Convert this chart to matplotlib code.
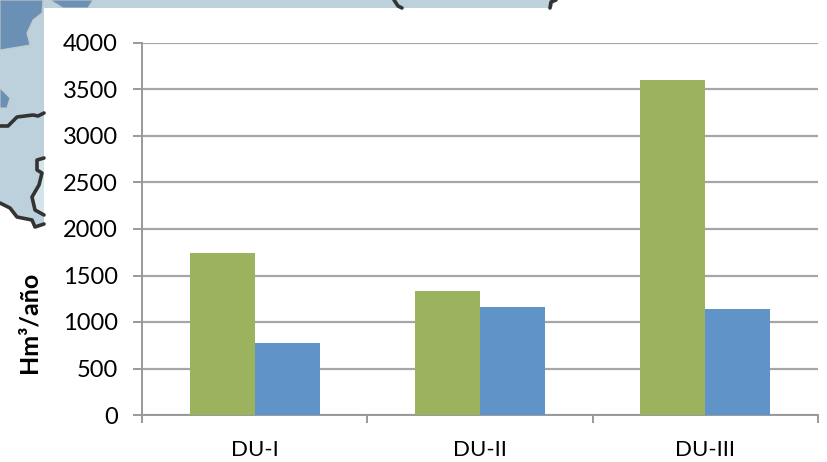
#!/usr/bin/env python3
# -*- coding: utf-8 -*-
"""
Bar chart of Hm3/year per DU, pasted over a piece of map
"""
import matplotlib
matplotlib.use('Agg')
import matplotlib.pyplot as plt
from matplotlib.patches import Polygon, Rectangle
import numpy as np

# Chart data
categories = ['DU-I', 'DU-II', 'DU-III']
green_values = [1740, 1330, 3600]
blue_values = [775, 1160, 1140]
y_ticks = [0, 500, 1000, 1500, 2000, 2500, 3000, 3500, 4000]

# Map leftovers behind the chart, in pixels of the picture
MAP_LIGHT = '#bcd1dc'
MAP_PALE = '#d3e5ea'
MAP_DARK = '#6a91b5'
BORDER = '#333333'
map_area = [(0, 0), (555, 0), (552, 8), (44, 8), (44, 224), (35, 227), (32, 220), (17, 217), (10, 208), (0, 203)]
map_pale = [(44, 158), (37, 160), (37, 170), (42, 173), (39, 185), (32, 197), (35, 210), (44, 215)]
map_deep = [(0, 0), (43, 0), (42, 13), (33, 20), (27, 33), (30, 45), (0, 50)]
map_deep_top = [(50, 0), (93, 0), (88, 8), (63, 8)]
map_deep_small = [(0, 88), (10, 98), (7, 108), (0, 108)]
border_a = [(0, 126), (8, 126), (17, 117), (33, 115), (38, 116), (44, 113)]
border_b = [(44, 158), (37, 160), (37, 170), (42, 173), (39, 185), (32, 197), (35, 210), (44, 215)]
border_c = [(0, 203), (10, 208), (17, 217), (32, 220), (35, 227), (44, 224)]
border_d = [(394, 0), (398, 6), (402, 8)]
border_e = [(556, 0), (551, 2), (550, 8)]


def draw_map(fig):
    bg = fig.add_axes([0, 0, 1, 1], zorder=0)
    bg.set_xlim(0, 828)
    bg.set_ylim(462, 0)
    bg.axis('off')
    bg.add_patch(Polygon(map_area, closed=True, fc=MAP_LIGHT, ec='none'))
    bg.add_patch(Polygon(map_pale, closed=True, fc=MAP_PALE, ec='none'))
    for shape in [map_deep, map_deep_top, map_deep_small]:
        bg.add_patch(Polygon(shape, closed=True, fc=MAP_DARK, ec='#c4c8cc', lw=0.8))
    for line in [border_a, border_b, border_c, border_d, border_e]:
        pts = np.array(line)
        bg.plot(pts[:, 0], pts[:, 1], color=BORDER, lw=2.6, solid_capstyle='round')
    # white panel of the chart on top of the map
    bg.add_patch(Rectangle((44, 8), 784, 454, fc='white', ec='none'))


def main():
    plt.rcParams['font.family'] = ['Lato', 'DejaVu Sans']
    fig = plt.figure(figsize=(8.28, 4.62), dpi=100)
    draw_map(fig)

    # axes box in picture pixels: x 142-818, y 43-415
    ax = fig.add_axes([142 / 828, 1 - 415 / 462, 676 / 828, 372 / 462], zorder=1)
    ax.patch.set_alpha(0)
    x = np.arange(len(categories))
    width = 0.288
    ax.bar(x - width / 2, green_values, width, color='#9bb25f', zorder=3)
    ax.bar(x + width / 2, blue_values, width, color='#6094c8', zorder=3)

    ax.set_xlim(-0.5, 2.5)
    ax.set_ylim(0, 4000)
    ax.set_yticks(y_ticks)
    ax.set_xticks(np.arange(-0.5, 3, 1))
    ax.set_xticklabels([])
    ax.set_xticks(x, minor=True)
    ax.set_xticklabels(categories, minor=True)
    ax.grid(axis='y', color='#a6a6a6', lw=1.6, zorder=1)
    for side in ['top', 'right']:
        ax.spines[side].set_visible(False)
    for side in ['left', 'bottom']:
        ax.spines[side].set_color('#999999')
        ax.spines[side].set_linewidth(1.4)
    ax.tick_params(axis='y', which='major', length=6.5, width=1.4, color='#999999',
                   labelsize=17, pad=11, labelcolor='black')
    ax.tick_params(axis='x', which='major', length=6, width=1.4, color='#999999')
    ax.tick_params(axis='x', which='minor', length=0, labelsize=16, pad=18)

    fig.text(29 / 828, 1 - 322 / 462, 'Hm³/año', rotation=90, ha='center', va='center',
             fontsize=18, fontweight='bold', zorder=2)

    fig.savefig('out.png', dpi=100)


if __name__ == "__main__":
    main()
